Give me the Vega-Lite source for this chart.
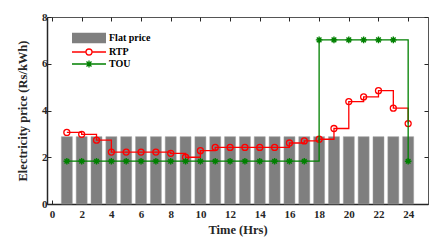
{
  "$schema": "https://vega.github.io/schema/vega-lite/v6.json",
  "width": 381,
  "height": 187,
  "autosize": {"type": "none"},
  "padding": {"left": 47, "top": 17, "right": 15, "bottom": 45},
  "background": "white",
  "config": {
    "font": "Liberation Serif",
    "view": {"stroke": "#555555", "strokeWidth": 1},
    "axis": {
      "labelFont": "Liberation Serif",
      "labelFontWeight": "bold",
      "labelFontSize": 11,
      "labelColor": "#262626",
      "titleFont": "Liberation Serif",
      "titleFontWeight": "bold",
      "titleFontSize": 12.5,
      "titleColor": "#262626",
      "domainColor": "#262626",
      "tickColor": "#262626",
      "grid": false
    }
  },
  "data": {
    "values": [
      {"hour": 1, "series": "Flat price", "price": 2.88},
      {"hour": 2, "series": "Flat price", "price": 2.88},
      {"hour": 3, "series": "Flat price", "price": 2.88},
      {"hour": 4, "series": "Flat price", "price": 2.88},
      {"hour": 5, "series": "Flat price", "price": 2.88},
      {"hour": 6, "series": "Flat price", "price": 2.88},
      {"hour": 7, "series": "Flat price", "price": 2.88},
      {"hour": 8, "series": "Flat price", "price": 2.88},
      {"hour": 9, "series": "Flat price", "price": 2.88},
      {"hour": 10, "series": "Flat price", "price": 2.88},
      {"hour": 11, "series": "Flat price", "price": 2.88},
      {"hour": 12, "series": "Flat price", "price": 2.88},
      {"hour": 13, "series": "Flat price", "price": 2.88},
      {"hour": 14, "series": "Flat price", "price": 2.88},
      {"hour": 15, "series": "Flat price", "price": 2.88},
      {"hour": 16, "series": "Flat price", "price": 2.88},
      {"hour": 17, "series": "Flat price", "price": 2.88},
      {"hour": 18, "series": "Flat price", "price": 2.88},
      {"hour": 19, "series": "Flat price", "price": 2.88},
      {"hour": 20, "series": "Flat price", "price": 2.88},
      {"hour": 21, "series": "Flat price", "price": 2.88},
      {"hour": 22, "series": "Flat price", "price": 2.88},
      {"hour": 23, "series": "Flat price", "price": 2.88},
      {"hour": 24, "series": "Flat price", "price": 2.88},
      {"hour": 1, "series": "RTP", "price": 3.06},
      {"hour": 2, "series": "RTP", "price": 2.98},
      {"hour": 3, "series": "RTP", "price": 2.73},
      {"hour": 4, "series": "RTP", "price": 2.22},
      {"hour": 5, "series": "RTP", "price": 2.22},
      {"hour": 6, "series": "RTP", "price": 2.22},
      {"hour": 7, "series": "RTP", "price": 2.22},
      {"hour": 8, "series": "RTP", "price": 2.17},
      {"hour": 9, "series": "RTP", "price": 2.0},
      {"hour": 10, "series": "RTP", "price": 2.28},
      {"hour": 11, "series": "RTP", "price": 2.42},
      {"hour": 12, "series": "RTP", "price": 2.42},
      {"hour": 13, "series": "RTP", "price": 2.42},
      {"hour": 14, "series": "RTP", "price": 2.42},
      {"hour": 15, "series": "RTP", "price": 2.42},
      {"hour": 16, "series": "RTP", "price": 2.61},
      {"hour": 17, "series": "RTP", "price": 2.7},
      {"hour": 18, "series": "RTP", "price": 2.77},
      {"hour": 19, "series": "RTP", "price": 3.23},
      {"hour": 20, "series": "RTP", "price": 4.38},
      {"hour": 21, "series": "RTP", "price": 4.58},
      {"hour": 22, "series": "RTP", "price": 4.85},
      {"hour": 23, "series": "RTP", "price": 4.1},
      {"hour": 24, "series": "RTP", "price": 3.44},
      {"hour": 1, "series": "TOU", "price": 1.83},
      {"hour": 2, "series": "TOU", "price": 1.83},
      {"hour": 3, "series": "TOU", "price": 1.83},
      {"hour": 4, "series": "TOU", "price": 1.83},
      {"hour": 5, "series": "TOU", "price": 1.83},
      {"hour": 6, "series": "TOU", "price": 1.83},
      {"hour": 7, "series": "TOU", "price": 1.83},
      {"hour": 8, "series": "TOU", "price": 1.83},
      {"hour": 9, "series": "TOU", "price": 1.83},
      {"hour": 10, "series": "TOU", "price": 1.83},
      {"hour": 11, "series": "TOU", "price": 1.83},
      {"hour": 12, "series": "TOU", "price": 1.83},
      {"hour": 13, "series": "TOU", "price": 1.83},
      {"hour": 14, "series": "TOU", "price": 1.83},
      {"hour": 15, "series": "TOU", "price": 1.83},
      {"hour": 16, "series": "TOU", "price": 1.83},
      {"hour": 17, "series": "TOU", "price": 1.83},
      {"hour": 18, "series": "TOU", "price": 7.02},
      {"hour": 19, "series": "TOU", "price": 7.02},
      {"hour": 20, "series": "TOU", "price": 7.02},
      {"hour": 21, "series": "TOU", "price": 7.02},
      {"hour": 22, "series": "TOU", "price": 7.02},
      {"hour": 23, "series": "TOU", "price": 7.02},
      {"hour": 24, "series": "TOU", "price": 1.83}
    ]
  },
  "layer": [
    {
      "transform": [{"filter": "datum.series === 'Flat price'"}],
      "mark": {"type": "bar", "size": 11, "fill": "#7f7f7f", "stroke": "#a0a0a0", "strokeWidth": 0.5, "opacity": 1},
      "encoding": {
        "x": {
          "field": "hour", "type": "quantitative",
          "scale": {"domain": [0, 25], "nice": false, "zero": false},
          "axis": {"orient": "bottom", "values": [0,2,4,6,8,10,12,14,16,18,20,22,24], "tickSize": -4, "labelPadding": 8, "title": "Time (Hrs)", "titlePadding": 4, "domainWidth": 1.5, "labelFlush": false}
        },
        "y": {
          "field": "price", "type": "quantitative",
          "scale": {"domain": [0, 8], "nice": false},
          "axis": {"orient": "left", "values": [0,2,4,6,8], "tickSize": -4, "labelPadding": 4, "title": "Electricity price (Rs/kWh)", "titlePadding": 12, "domainWidth": 1.5, "labelFlush": false}
        }
      }
    },
    {
      "transform": [{"filter": "datum.series === 'RTP'"}],
      "mark": {"type": "line", "interpolate": "step-after", "color": "#ff0000", "strokeWidth": 1.3},
      "encoding": {
        "x": {"field": "hour", "type": "quantitative", "axis": null},
        "y": {"field": "price", "type": "quantitative", "axis": null}
      }
    },
    {
      "transform": [{"filter": "datum.series === 'RTP'"}],
      "mark": {"type": "point", "shape": "circle", "filled": false, "size": 36, "strokeWidth": 1.3, "opacity": 1, "stroke": "#ff0000", "fill": "transparent"},
      "encoding": {
        "x": {"field": "hour", "type": "quantitative", "axis": null},
        "y": {"field": "price", "type": "quantitative", "axis": null}
      }
    },
    {
      "transform": [{"filter": "datum.series === 'TOU'"}],
      "mark": {"type": "line", "interpolate": "step-after", "color": "#008000", "strokeWidth": 1.3},
      "encoding": {
        "x": {"field": "hour", "type": "quantitative", "axis": null},
        "y": {"field": "price", "type": "quantitative", "axis": null}
      }
    },
    {
      "transform": [{"filter": "datum.series === 'TOU'"}],
      "mark": {"type": "point", "shape": "M0,-1V1M-1,0H1M-0.7,-0.7L0.7,0.7M-0.7,0.7L0.7,-0.7", "filled": false, "size": 44, "strokeWidth": 1.4, "opacity": 1, "stroke": "#008000", "fill": "transparent"},
      "encoding": {
        "x": {"field": "hour", "type": "quantitative", "axis": null},
        "y": {"field": "price", "type": "quantitative", "axis": null}
      }
    },
    {
      "mark": {"type": "point", "filled": false, "opacity": 0, "strokeWidth": 1.3},
      "encoding": {
        "x": {"field": "hour", "type": "quantitative", "axis": {"orient": "top", "values": [0,2,4,6,8,10,12,14,16,18,20,22,24], "tickSize": -4, "labels": false, "title": null, "domain": false}},
        "y": {"field": "price", "type": "quantitative", "axis": {"orient": "right", "values": [0,2,4,6,8], "tickSize": -4, "labels": false, "title": null, "domain": false}},
        "color": {
          "field": "series", "type": "nominal",
          "scale": {"domain": ["Flat price", "RTP", "TOU"], "range": ["#7f7f7f", "#ff0000", "#008000"]},
          "legend": {
            "orient": "none",
            "legendX": 36,
            "legendY": 15,
            "title": null,
            "padding": 0,
            "symbolSize": 100,
            "symbolStrokeWidth": 1.3,
            "symbolOpacity": 1,
            "labelFont": "Liberation Serif",
            "labelFontWeight": "bold",
            "labelFontSize": 10,
            "labelColor": "#000000",
            "labelOffset": 14,
            "rowPadding": -3.5
          }
        },
        "shape": {
          "field": "series", "type": "nominal",
          "scale": {"domain": ["Flat price", "RTP", "TOU"], "range": [
            "M-3.4,-0.9H3.4M-3.4,-0.7H3.4M-3.4,-0.5H3.4M-3.4,-0.3H3.4M-3.4,-0.1H3.4M-3.4,0.1H3.4M-3.4,0.3H3.4M-3.4,0.5H3.4M-3.4,0.7H3.4M-3.4,0.9H3.4",
            "M-3.4,0H-0.6M0.6,0H3.4M-0.6,0A0.6,0.6 0 1,0 0.6,0A0.6,0.6 0 1,0 -0.6,0",
            "M-3.4,0H3.4M0,-0.7V0.7M-0.7,0H0.7M-0.5,-0.5L0.5,0.5M-0.5,0.5L0.5,-0.5"
          ]}
        }
      }
    }
  ],
  "resolve": {"axis": {"x": "independent", "y": "independent"}}
}
